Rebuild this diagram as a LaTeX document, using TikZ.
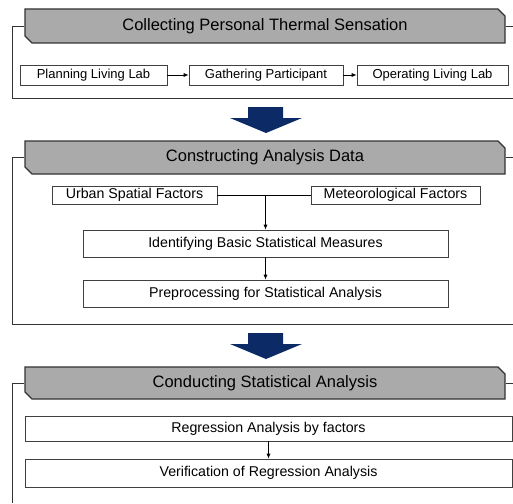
\documentclass[tikz,border=0pt]{standalone}
\usepackage{fontspec}
\setmainfont{Liberation Sans}
\usetikzlibrary{arrows.meta,shapes.misc}
\definecolor{headgray}{HTML}{AAAAAA}
\definecolor{navy}{HTML}{0B2A66}
\tikzset{box/.style={draw=black!75,line width=0.7pt,minimum height=20pt,inner sep=0pt,font=\fontsize{14.2}{16}\selectfont},smallbox/.style={box,font=\fontsize{13}{15}\selectfont},head/.style={draw=black!80,line width=1.3pt,fill=headgray,chamfered rectangle,chamfered rectangle corners={north east,south west},chamfered rectangle xsep=3.5pt,chamfered rectangle ysep=3.5pt,minimum width=480pt,minimum height=34pt,inner sep=0pt,font=\fontsize{16.5}{19}\selectfont},frame/.style={draw=black!80,line width=0.8pt},arrow/.style={-{Latex[length=5pt,width=4pt]},line width=0.7pt},bigarrow/.style={fill=navy}}

\begin{document}
\begin{tikzpicture}[x=1pt,y=-1pt]
\useasboundingbox (0,0) rectangle (513,503);
% stage 1
\node[head] (collect) at (265,26) {Collecting Personal Thermal Sensation};
\node[smallbox,minimum width=147pt] (plan) at (93.5,75) {Planning Living Lab};
\node[smallbox,minimum width=154pt] (gather) at (266,75) {Gathering Participant};
\node[smallbox,minimum width=151pt] (operate) at (432.5,75) {Operating Living Lab};
\draw[arrow] (plan)--(gather); \draw[arrow] (gather)--(operate);
\draw[frame] (collect.west) -| (12,98) -- (513,98); \draw[frame] (collect.east) -- (513,26);
% stage 2
\node[head,minimum height=33pt] (construct) at (265,157.5) {Constructing Analysis Data};
\node[box,minimum width=165pt,minimum height=18pt] (urban) at (134.5,195) {Urban Spatial Factors};
\node[box,minimum width=169pt,minimum height=18pt] (meteo) at (395.5,195) {Meteorological Factors};
\node[box,minimum width=365pt,minimum height=27pt] (ident) at (265.5,243.5) {Identifying Basic Statistical Measures};
\node[box,minimum width=365pt,minimum height=27pt] (prep) at (265.5,293.5) {Preprocessing for Statistical Analysis};
\draw[line width=0.7pt] (urban)--(meteo); \draw[arrow] (ident.north |- urban) -- (ident); \draw[arrow] (ident)--(prep);
\draw[frame] (construct.west) -| (12,324) -- (513,324); \draw[frame] (construct.east) -- (513,157.5);
% stage 3
\node[head,minimum height=32pt] (conduct) at (265,383) {Conducting Statistical Analysis};
\node[box,minimum width=487pt,minimum height=25pt] (regress) at (268.5,428.5) {Regression Analysis by factors};
\node[box,minimum width=487pt,minimum height=28pt] (verify) at (268.5,473) {Verification of Regression Analysis};
\draw[arrow] (regress)--(verify);
\draw[frame] (conduct.west) -| (12,503); \draw[frame] (conduct.east) -- (513,383);
% block arrows between stages
\foreach \y in {107,333}
  \fill[bigarrow] (248,\y) -- (283,\y) -- (283,\y+11) -- (302,\y+11) -- (266,\y+26) -- (230,\y+11) -- (248,\y+11) -- cycle;
\end{tikzpicture}
\end{document}
